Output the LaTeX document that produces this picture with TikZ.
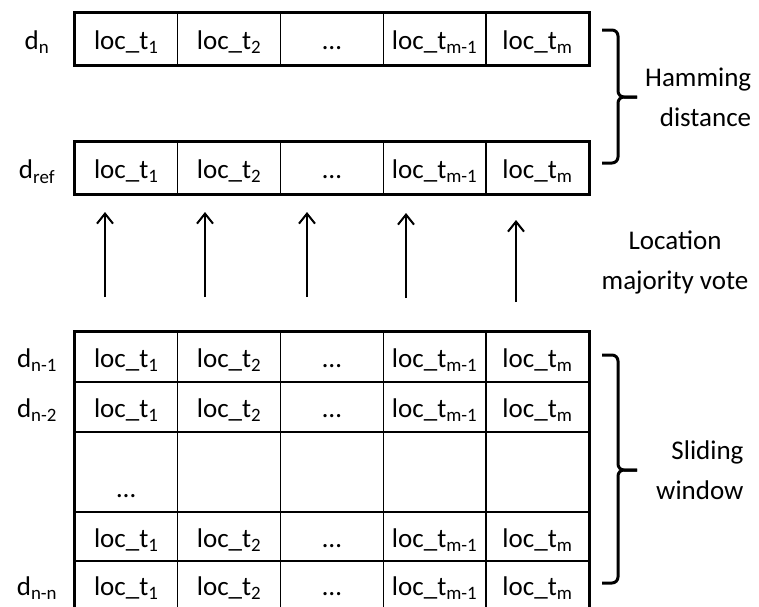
\documentclass[tikz,border=0pt]{standalone}
\usepackage{fontspec}
\setmainfont{Carlito}
\usetikzlibrary{matrix}
\usetikzlibrary{positioning}
\usetikzlibrary{arrows.meta}

\newcommand{\loct}[1]{loc\_t\textsubscript{#1}}

\begin{document}
\begin{tikzpicture}[x=1pt,y=-1pt,font=\fontsize{27}{40}\selectfont,
    cell/.style={draw,line width=1.5pt,minimum width=102.8pt,minimum height=52pt,
                 inner sep=0pt,text height=24pt,text depth=2pt,anchor=center},
    locrow/.style={matrix of nodes,nodes in empty cells,anchor=north west,draw,
                   line width=2.2pt,inner sep=0pt,nodes={cell},
                   column sep=-1.5pt,row sep=-1.5pt},
    lbl/.style={inner sep=0pt,text height=24pt,text depth=2pt},
    note/.style={inner sep=0pt},
    vote/.style={-{Straight Barb[length=10pt,width=16pt]},line width=2pt},
    brk/.style={line width=3pt,rounded corners=6pt}]
    \useasboundingbox (0,0) rectangle (759,606);
    % d_n and d_ref
    \matrix (dn) [locrow] at (73,11) {
      \loct{1} & \loct{2} & … & \loct{m-1} & \loct{m} \\
    };
    \matrix (dref) [locrow] at (73,140) {
      \loct{1} & \loct{2} & … & \loct{m-1} & \loct{m} \\
    };
    % sliding window
    \matrix (win) [locrow,
                   row 1/.style={nodes={minimum height=50pt}},
                   row 2/.style={nodes={minimum height=50pt}},
                   row 3/.style={nodes={minimum height=80pt}},
                   row 4/.style={nodes={minimum height=49pt}},
                   row 5/.style={nodes={minimum height=48pt}}] at (73,330) {
      \loct{1} & \loct{2} & … & \loct{m-1} & \loct{m} \\
      \loct{1} & \loct{2} & … & \loct{m-1} & \loct{m} \\
      |[text height=54pt]| … & & & & \\
      \loct{1} & \loct{2} & … & \loct{m-1} & \loct{m} \\
      \loct{1} & \loct{2} & … & \loct{m-1} & \loct{m} \\
    };
    % row labels
    \coordinate (lx) at (37,0);
    \node[lbl] (ln)   at (lx |- dn-1-1)   {d\textsubscript{n}};
    \node[lbl] (lref) at (lx |- dref-1-1) {d\textsubscript{ref}};
    \node[lbl] (l1)   at (lx |- win-1-1)  {d\textsubscript{n-1}};
    \node[lbl] (l2)   at (lx |- win-2-1)  {d\textsubscript{n-2}};
    \node[lbl] (lnn)  at (lx |- win-5-1)  {d\textsubscript{n-n}};
    % majority vote
    \coordinate (a1) at (105,297); \coordinate (t1) at (105,212);
    \coordinate (a2) at (205,297); \coordinate (t2) at (205,212);
    \coordinate (a3) at (307,297); \coordinate (t3) at (307,212);
    \coordinate (a4) at (406,298); \coordinate (t4) at (406,213);
    \coordinate (a5) at (516,302); \coordinate (t5) at (516,220);
    \draw[vote] (a1) -- (t1);
    \draw[vote] (a2) -- (t2);
    \draw[vote] (a3) -- (t3);
    \draw[vote] (a4) -- (t4);
    \draw[vote] (a5) -- (t5);
    \node[note,align=center] (loc) at (675,262) {Location\\majority vote};
    % Hamming
    \coordinate (ht) at (602,30); \coordinate (hm) at (637,97); \coordinate (hb) at (602,163);
    \draw[brk] (ht) -- ++(16,0) |- (hm);
    \draw[brk] (hb) -- ++(16,0) |- (hm);
    \node[note,align=right,right=8pt of hm] (ham) {Hamming\\distance};
    % sliding
    \coordinate (st) at (602,355); \coordinate (sm) at (637,470); \coordinate (sb) at (602,583);
    \draw[brk] (st) -- ++(16,0) |- (sm);
    \draw[brk] (sb) -- ++(16,0) |- (sm);
    \node[note,align=right,right=19pt of sm] (sw) {Sliding\\window};
\end{tikzpicture}
\end{document}
